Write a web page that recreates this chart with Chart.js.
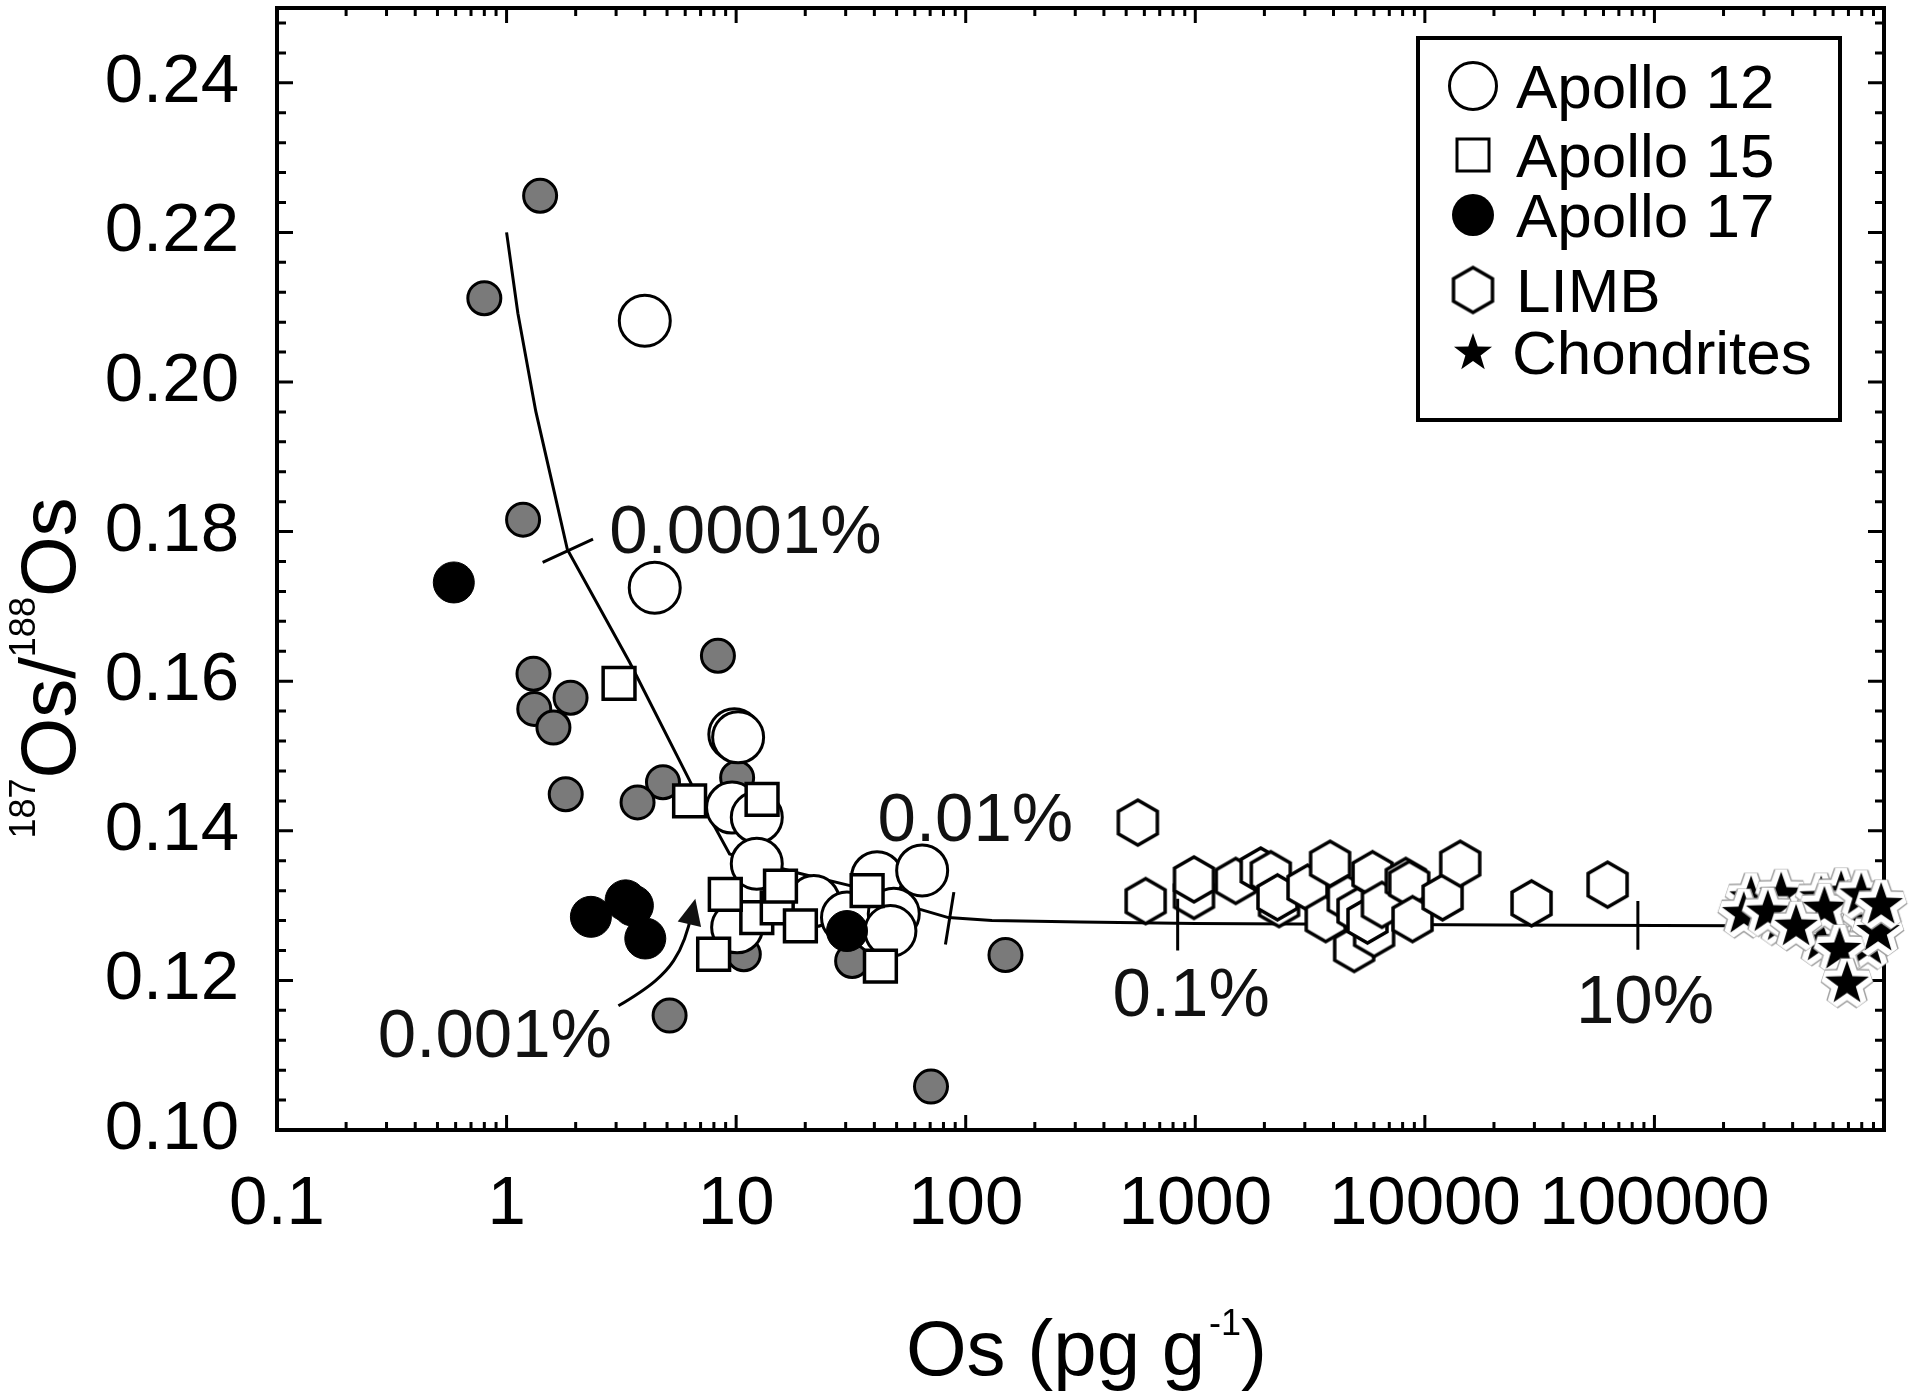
<!DOCTYPE html>
<html>
<head>
<meta charset="utf-8">
<script src="https://cdn.jsdelivr.net/npm/chart.js@4.4.0/dist/chart.umd.min.js"></script>
<style>
  body { margin: 0; background: #fff; }
  canvas { display: block; }
</style>
</head>
<body>
<canvas id="chart" width="1920" height="1399"></canvas>
<script>
// ---- axis ticks ----
const xTickValues = [0.1, 1, 10, 100, 1000, 10000, 100000, 1000000];
const xTickLabels = ["0.1", "1", "10", "100", "1000", "10000", "100000", ""];
const yTickValues = [0.10, 0.12, 0.14, 0.16, 0.18, 0.20, 0.22, 0.24];
const yTickLabels = ["0.10", "0.12", "0.14", "0.16", "0.18", "0.20", "0.22", "0.24"];

// ---- samples (Os in pg/g, 187Os/188Os) ----
// grey circles (not in legend)
const greyX = [1.40, 0.80, 1.18, 1.31, 1.90, 1.32, 1.60, 1.81, 8.33, 4.80, 3.72, 10.1, 10.8, 32.0, 5.13, 149, 70.6];
const greyY = [0.2249, 0.2112, 0.1816, 0.1610, 0.1578, 0.1563, 0.1538, 0.1449, 0.1634, 0.1465, 0.1438, 0.1471, 0.1235, 0.1226, 0.1153, 0.1234, 0.1058];

const apollo12X = [4.0, 4.42, 9.82, 10.2, 9.6, 12.3, 12.3, 10.1, 21.8, 30.4, 41.1, 48.6, 47.0, 64.6];
const apollo12Y = [0.2082, 0.1725, 0.1529, 0.1525, 0.1431, 0.1418, 0.1356, 0.1271, 0.1306, 0.1284, 0.1338, 0.1289, 0.1266, 0.1347];

const apollo15X = [3.09, 6.27, 12.97, 12.3, 15.1, 8.97, 15.6, 19.05, 7.98, 37.2, 42.5];
const apollo15Y = [0.1597, 0.1440, 0.1442, 0.1284, 0.1297, 0.1315, 0.1326, 0.1273, 0.1235, 0.1320, 0.1219];

const apollo17X = [0.589, 2.33, 3.3, 3.55, 4.02, 30.4];
const apollo17Y = [0.1732, 0.1285, 0.1307, 0.1300, 0.1256, 0.1266];

const limbX = [562, 608, 987, 987, 1500, 1928, 2132, 2317, 2280, 3083, 3700, 3866, 4920, 4617, 5090, 6010, 5623, 5915, 6500, 8260, 8546, 8836, 11950, 14260, 29150, 62500];
const limbY = [0.1411, 0.1306, 0.1313, 0.1335, 0.1333, 0.1347, 0.1342, 0.1302, 0.1311, 0.1324, 0.1282, 0.1356, 0.1242, 0.1309, 0.1293, 0.1262, 0.1280, 0.1342, 0.1301, 0.1333, 0.1329, 0.1282, 0.1311, 0.1356, 0.1303, 0.1328];

const chondX = [263600, 356400, 532500, 650600, 741700, 851000, 532500, 851000, 356400,
  245000, 312000, 550000, 796000, 414000, 942000, 640000, 690000, 972000];
const chondY = [0.1311, 0.1316, 0.1311, 0.1318, 0.1302, 0.1280, 0.1253, 0.1248, 0.1280,
  0.1290, 0.1292, 0.1297, 0.1315, 0.1273, 0.1266, 0.1242, 0.1197, 0.1302];

// ---- mixing curve ----
const mixX = [1.0, 1.12, 1.34, 1.61, 1.84, 3.44, 6.37, 9.36, 18.4, 32, 63.3, 84, 130, 317, 1000, 21400, 234000];
const mixY = [0.220, 0.2092, 0.1961, 0.1854, 0.1776, 0.1625, 0.1463, 0.1369, 0.1344, 0.1326, 0.1295, 0.1284, 0.1280, 0.1278, 0.1276, 0.1274, 0.1273];

// short marks across the curve
const markX1 = [1.436, 88.8, 838, 84700];
const markY1 = [0.1759, 0.1318, 0.1309, 0.1306];
const markX2 = [2.38, 81.6, 838, 84700];
const markY2 = [0.1790, 0.1248, 0.1240, 0.1241];

const noteTexts = ["0.0001%", "0.001%", "0.01%", "0.1%", "10%"];
const noteX = [2.80, 0.275, 41.3, 436, 45500];
const noteY = [0.1772, 0.1097, 0.1387, 0.1153, 0.1143];

// arrow from the 0.001% label
const arrowX = [3.07, 3.95, 5.0, 5.71, 6.21, 6.64];
const arrowY = [0.1166, 0.1186, 0.1213, 0.1240, 0.1271, 0.1309];

const legendLabels = ["Apollo 12", "Apollo 15", "Apollo 17", "LIMB", "Chondrites"];

const FONT = "'Liberation Sans', Arial, Helvetica, sans-serif";

// ---- custom marker shapes ----
function makeHexagon(r, lw) {
  const c = document.createElement("canvas");
  const s = Math.ceil(2 * r + lw + 4);
  c.width = c.height = s;
  const g = c.getContext("2d");
  g.beginPath();
  for (let i = 0; i < 6; i++) {
    const a = -Math.PI / 2 + i * Math.PI / 3;
    const px = s / 2 + r * Math.cos(a), py = s / 2 + r * Math.sin(a);
    if (i === 0) g.moveTo(px, py); else g.lineTo(px, py);
  }
  g.closePath();
  g.fillStyle = "#fff";
  g.fill();
  g.lineWidth = lw;
  g.strokeStyle = "#000";
  g.stroke();
  return c;
}

function starPath(g, cx, cy, R, r) {
  g.beginPath();
  for (let i = 0; i < 10; i++) {
    const a = -Math.PI / 2 + i * Math.PI / 5;
    const rr = i % 2 ? r : R;
    const px = cx + rr * Math.cos(a), py = cy + rr * Math.sin(a);
    if (i === 0) g.moveTo(px, py); else g.lineTo(px, py);
  }
  g.closePath();
}

function makeStar(R, halo) {
  const c = document.createElement("canvas");
  const s = Math.ceil(2 * (R + halo) + 12);
  c.width = c.height = s;
  const g = c.getContext("2d");
  starPath(g, s / 2, s / 2 + 1, R, R * 0.4);
  if (halo) {
    g.lineJoin = "miter";
    g.miterLimit = 2.2;
    g.lineWidth = halo * 2 + 3;
    g.strokeStyle = "#a0a0a0";
    g.stroke();
    g.lineWidth = halo * 2;
    g.strokeStyle = "#fff";
    g.stroke();
  }
  g.fillStyle = "#000";
  g.fill();
  return c;
}

const hexMarker = makeHexagon(22.5, 3.5);
const starMarker = makeStar(23, 6);
const legendStar = makeStar(20, 0);

const pts = (xs, ys) => xs.map((x, i) => ({ x: x, y: ys[i] }));

// ---- frame with inward ticks on all four sides ----
const framePlugin = {
  id: "frame",
  beforeDatasetsDraw(chart) {
    const { ctx, chartArea: a, scales } = chart;
    ctx.save();
    ctx.strokeStyle = "#000";
    ctx.lineWidth = 3;
    ctx.beginPath();
    for (let k = -1; k < 6; k++) {
      for (let m = 1; m < 10; m++) {
        const px = scales.x.getPixelForValue(m * Math.pow(10, k));
        const len = m === 1 ? 15 : 8;
        ctx.moveTo(px, a.bottom); ctx.lineTo(px, a.bottom - len);
        ctx.moveTo(px, a.top); ctx.lineTo(px, a.top + len);
      }
    }
    for (let i = 0; i <= 37; i++) {
      const py = scales.y.getPixelForValue(0.10 + i * 0.004);
      const len = i % 5 === 0 ? 16 : 9;
      ctx.moveTo(a.left, py); ctx.lineTo(a.left + len, py);
      ctx.moveTo(a.right, py); ctx.lineTo(a.right - len, py);
    }
    ctx.stroke();
    ctx.lineWidth = 4;
    ctx.strokeRect(a.left, a.top, a.right - a.left, a.bottom - a.top);
    ctx.restore();
  },
  afterDatasetsDraw(chart) {
    const { ctx, scales } = chart;
    const X = v => scales.x.getPixelForValue(v);
    const Y = v => scales.y.getPixelForValue(v);
    ctx.save();
    ctx.strokeStyle = "#000";
    ctx.fillStyle = "#111";
    ctx.lineWidth = 3;
    // marks on the curve
    ctx.beginPath();
    markX1.forEach((x, i) => {
      ctx.moveTo(X(x), Y(markY1[i]));
      ctx.lineTo(X(markX2[i]), Y(markY2[i]));
    });
    ctx.stroke();
    // arrow
    const n = arrowX.length;
    ctx.beginPath();
    ctx.moveTo(X(arrowX[0]), Y(arrowY[0]));
    for (let i = 1; i < n - 1; i++) {
      const mx = (X(arrowX[i]) + X(arrowX[i + 1])) / 2;
      const my = (Y(arrowY[i]) + Y(arrowY[i + 1])) / 2;
      ctx.quadraticCurveTo(X(arrowX[i]), Y(arrowY[i]), mx, my);
    }
    ctx.stroke();
    const tx = X(arrowX[n - 1]), ty = Y(arrowY[n - 1]);
    const ang = Math.atan2(ty - Y(arrowY[n - 2]), tx - X(arrowX[n - 2]));
    ctx.beginPath();
    ctx.moveTo(tx, ty);
    ctx.lineTo(tx - 26 * Math.cos(ang) + 12 * Math.sin(ang), ty - 26 * Math.sin(ang) - 12 * Math.cos(ang));
    ctx.lineTo(tx - 26 * Math.cos(ang) - 12 * Math.sin(ang), ty - 26 * Math.sin(ang) + 12 * Math.cos(ang));
    ctx.closePath();
    ctx.fill();
    // percentage notes
    ctx.font = "69px " + FONT;
    ctx.textAlign = "left";
    ctx.textBaseline = "alphabetic";
    noteTexts.forEach((t, i) => ctx.fillText(t, X(noteX[i]), Y(noteY[i])));
    ctx.restore();
  },
  afterDraw(chart) {
    const { ctx, chartArea: a } = chart;
    ctx.save();
    ctx.fillStyle = "#000";
    ctx.textBaseline = "alphabetic";
    ctx.textAlign = "left";

    const drawRuns = (runs, cx, base) => {
      let w = 0;
      runs.forEach(r => { ctx.font = r.size + "px " + FONT; r.w = ctx.measureText(r.text).width; w += r.w + (r.gap || 0); });
      let x = cx - w / 2;
      runs.forEach(r => {
        ctx.font = r.size + "px " + FONT;
        x += r.gap || 0;
        ctx.fillText(r.text, x, base - (r.rise || 0));
        x += r.w;
      });
    };

    // x title
    drawRuns([
      { text: "Os (pg g", size: 78 },
      { text: "-1", size: 36, rise: 40, gap: 4 },
      { text: ")", size: 78 }
    ], (a.left + a.right) / 2 + 6, 1375);

    // y title
    ctx.translate(75, 668);
    ctx.rotate(-Math.PI / 2);
    drawRuns([
      { text: "187", size: 36, rise: 40 },
      { text: "Os/", size: 78 },
      { text: "188", size: 36, rise: 40 },
      { text: "Os", size: 78 }
    ], 0, 0);
    ctx.setTransform(1, 0, 0, 1, 0, 0);

    // legend box
    const bx = a.right - 466, by = a.top + 30, bw = 422, bh = 382;
    ctx.fillStyle = "#fff";
    ctx.fillRect(bx, by, bw, bh);
    ctx.lineWidth = 4;
    ctx.strokeStyle = "#000";
    ctx.strokeRect(bx, by, bw, bh);
    const rows = [48, 117, 177, 252, 314];
    const mx = bx + 55;
    ctx.lineWidth = 3;
    // Apollo 12
    ctx.beginPath(); ctx.arc(mx, by + rows[0], 23.5, 0, Math.PI * 2); ctx.fillStyle = "#fff"; ctx.fill(); ctx.stroke();
    // Apollo 15
    ctx.fillStyle = "#fff"; ctx.fillRect(mx - 16, by + rows[1] - 16, 32, 32); ctx.strokeRect(mx - 16, by + rows[1] - 16, 32, 32);
    // Apollo 17
    ctx.beginPath(); ctx.arc(mx, by + rows[2], 21, 0, Math.PI * 2); ctx.fillStyle = "#000"; ctx.fill();
    // LIMB
    ctx.drawImage(hexMarker, mx - hexMarker.width / 2, by + rows[3] - hexMarker.height / 2);
    // Chondrites
    ctx.drawImage(legendStar, mx - legendStar.width / 2, by + rows[4] - legendStar.height / 2);
    ctx.fillStyle = "#000";
    ctx.font = "62px " + FONT;
    legendLabels.forEach((t, i) => ctx.fillText(t, bx + (i === 4 ? 94 : 98), by + rows[i] + 22));
    ctx.restore();
  }
};

new Chart(document.getElementById("chart"), {
  type: "scatter",
  data: {
    datasets: [
      {
        label: "mixing",
        data: pts(mixX, mixY),
        showLine: true,
        borderColor: "#000",
        borderWidth: 3,
        pointRadius: 0,
        order: 10,
      },
      {
        label: "other",
        data: pts(greyX, greyY),
        pointStyle: "circle",
        pointRadius: 16.5,
        backgroundColor: "#7a7a7a",
        borderColor: "#000",
        borderWidth: 3,
        order: 6,
      },
      {
        label: legendLabels[0],
        data: pts(apollo12X, apollo12Y),
        pointStyle: "circle",
        pointRadius: 25.5,
        backgroundColor: "#fff",
        borderColor: "#000",
        borderWidth: 3,
        order: 5,
      },
      {
        label: legendLabels[2],
        data: pts(apollo17X, apollo17Y),
        pointStyle: "circle",
        pointRadius: 20.5,
        backgroundColor: "#000",
        borderColor: "#000",
        borderWidth: 1,
        order: 4,
      },
      {
        label: legendLabels[1],
        data: pts(apollo15X, apollo15Y),
        pointStyle: "rect",
        pointRadius: 22.5,
        backgroundColor: "#fff",
        borderColor: "#000",
        borderWidth: 3.5,
        order: 3,
      },
      {
        label: legendLabels[3],
        data: pts(limbX, limbY),
        pointStyle: hexMarker,
        pointRadius: 23,
        order: 2,
      },
      {
        label: legendLabels[4],
        data: pts(chondX, chondY),
        pointStyle: starMarker,
        pointRadius: 24,
        clip: false,
        order: 1,
      },
    ],
  },
  options: {
    responsive: false,
    animation: false,
    events: [],
    devicePixelRatio: 1,
    layout: { autoPadding: false, padding: { left: 0, top: 8, right: 36, bottom: 0 } },
    plugins: { legend: { display: false }, tooltip: { enabled: false } },
    scales: {
      x: {
        type: "logarithmic",
        position: "bottom",
        min: 0.1,
        max: 1000000,
        grid: { display: false, drawTicks: false },
        border: { display: false },
        ticks: {
          autoSkip: false,
          maxRotation: 0,
          minRotation: 0,
          padding: 34,
          color: "#000",
          font: { family: FONT, size: 69 },
          callback: (v, i) => xTickLabels[i],
        },
        afterBuildTicks: s => { s.ticks = xTickValues.map(v => ({ value: v })); },
        afterFit: s => { s.height = 1399 - 1130; s.paddingLeft = 0; s.paddingRight = 0; },
      },
      y: {
        type: "linear",
        position: "left",
        min: 0.10,
        max: 0.25,
        grid: { display: false, drawTicks: false },
        border: { display: false },
        ticks: {
          padding: 38,
          color: "#000",
          font: { family: FONT, size: 69 },
          callback: (v, i) => yTickLabels[i],
        },
        afterBuildTicks: s => { s.ticks = yTickValues.map(v => ({ value: v })); },
        afterFit: s => { s.width = 277; s.paddingTop = 0; s.paddingBottom = 0; },
      },
    },
  },
  plugins: [framePlugin],
});
</script>
</body>
</html>
